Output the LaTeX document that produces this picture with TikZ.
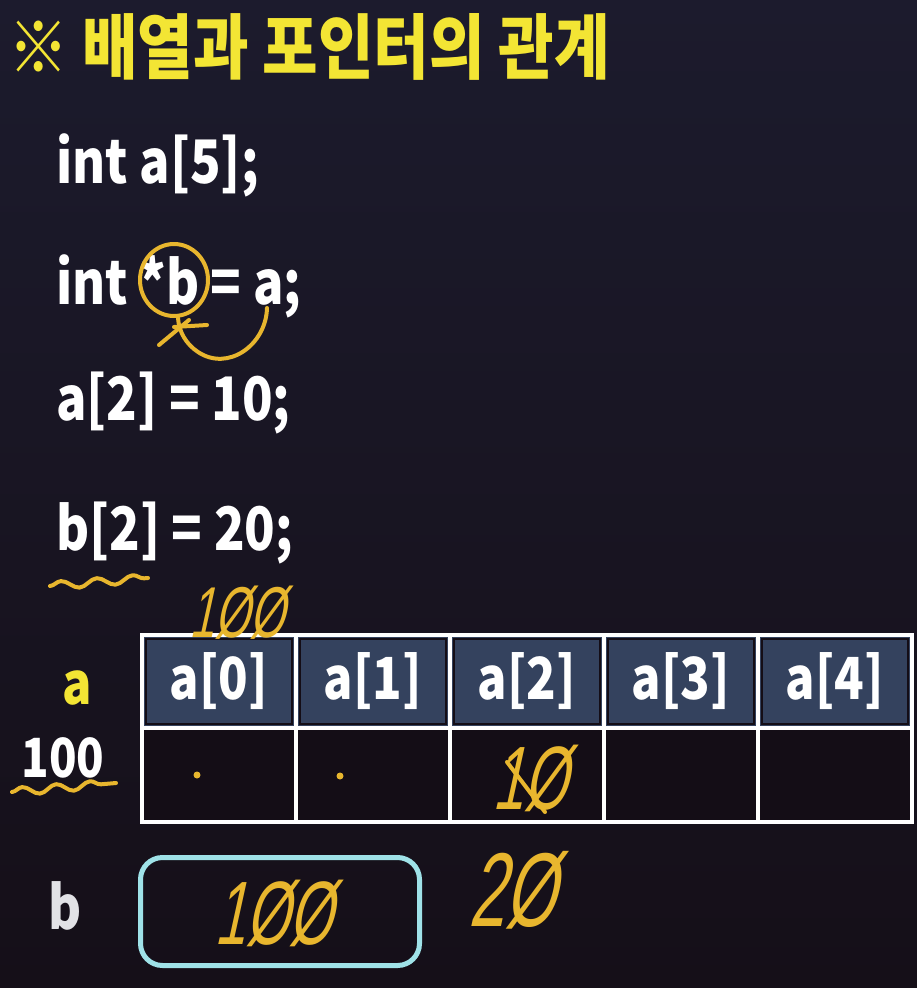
\documentclass[tikz,border=0pt]{standalone}
\usepackage{fontspec}
\newfontfamily\titlefont[FakeStretch=0.85]{Noto Sans CJK KR}
\newfontfamily\codefont[FakeStretch=0.84]{Noto Sans CJK KR}
\newfontfamily\handfont[FakeStretch=0.62,FakeSlant=0.22]{Liberation Sans}
\usetikzlibrary{decorations.pathmorphing}
\definecolor{bgtop}{HTML}{1C1B2D}
\definecolor{bgbot}{HTML}{150F18}
\definecolor{ttl}{HTML}{F3E534}
\definecolor{handc}{HTML}{E8B62E}
\definecolor{hdr}{HTML}{34425E}
\definecolor{cellbg}{HTML}{140D16}
\definecolor{cyanbox}{HTML}{9FE2E8}
\definecolor{lbl}{HTML}{E2E2E6}
\tikzset{
  titletext/.style={text=ttl, font=\titlefont\bfseries\fontsize{71}{80}\selectfont, inner sep=0pt},
  code/.style={text=white, font=\codefont\bfseries\fontsize{60}{70}\selectfont, inner sep=0pt},
  hdrcell/.style={draw=white, line width=4pt, fill=hdr, minimum width=154pt, minimum height=93pt, inner sep=0pt, text=white, font=\codefont\bfseries\fontsize{58}{66}\selectfont},
  valcell/.style={draw=white, line width=4pt, fill=cellbg, minimum width=154pt, minimum height=94pt, inner sep=0pt},
  hand/.style={text=handc, font=\handfont\fontsize{90}{96}\selectfont, inner sep=0pt},
  handline/.style={draw=handc, line width=4pt, line cap=round, line join=round},
  wavy/.style={handline, decorate, decoration={snake, amplitude=4pt, segment length=36pt}},
}
\begin{document}
\begin{tikzpicture}[x=1pt,y=-1pt]
\shade[top color=bgtop, bottom color=bgbot] (0,0) rectangle (917,988);
\useasboundingbox (0,0) rectangle (917,988);
% title
\node[titletext, anchor=west] (title) at (8,47) {※ 배열과 포인터의 관계};
% code lines
\node[code, anchor=base west] (l1) at (56,183) {int a[5];};
\node[code, anchor=base west] (l2) at (56,304) {int *b = a;};
\node[code, anchor=base west] (l3) at (56,420) {a[2] = 10;};
\node[code, anchor=base west] (l4) at (56,550) {b[2] = 20;};
% table
\foreach \i in {0,...,4} {
  \node[valcell] (v\i) at ({219+154*\i},775) {};
}
\foreach \i in {0,...,4} {
  \node[hdrcell] (h\i) at ({219+154*\i},681.5) {a[\i]};
  \draw[cellbg, line width=1.5pt] ({142+154*\i+4},639) rectangle ({142+154*(\i+1)-4},724);
}
% labels
\node[code, text=ttl, font=\codefont\bfseries\fontsize{58}{66}\selectfont] (alabel) at (77,688) {a};
\node[code, font=\codefont\bfseries\fontsize{54}{60}\selectfont] (addr) at (63,758) {100};
\node[code, text=lbl] (blabel) at (65,906) {b};
% b box
\node[draw=cyanbox, line width=5pt, rounded corners=22pt, minimum width=279pt, minimum height=108pt] (bbox) at (280,911.5) {};
% handwriting
\node[hand] (bval) at (273,913) {1ØØ};
\node[hand, font=\handfont\fontsize{105}{110}\selectfont] (twenty) at (512,890) {2Ø};
\node[hand, font=\handfont\fontsize{72}{78}\selectfont] (addr0) at (237,613) {1ØØ};
\node[hand, font=\handfont\fontsize{90}{96}\selectfont] (ten) at (530,778) {1Ø};
\draw[handline] (507,762) -- (545,812);
\fill[handc] (197,775) circle (3.5pt);
\fill[handc] (340,776) circle (3.5pt);
% circle around *b and loop
\draw[handline] (174,280) ellipse (34pt and 36pt);
\draw[handline] (267,308) .. controls (266,345) and (228,372) .. (198,352) .. controls (186,344) and (179,332) .. (178,318);
\draw[handline] (159,345) -- (189,320);
\draw[handline] (174,327) -- (207,325);
% squiggles
\draw[wavy] (50,586) -- (148,578);
\draw[wavy, decoration={snake, amplitude=4pt, segment length=34pt}] (12,792) -- (116,783);
\end{tikzpicture}
\end{document}
